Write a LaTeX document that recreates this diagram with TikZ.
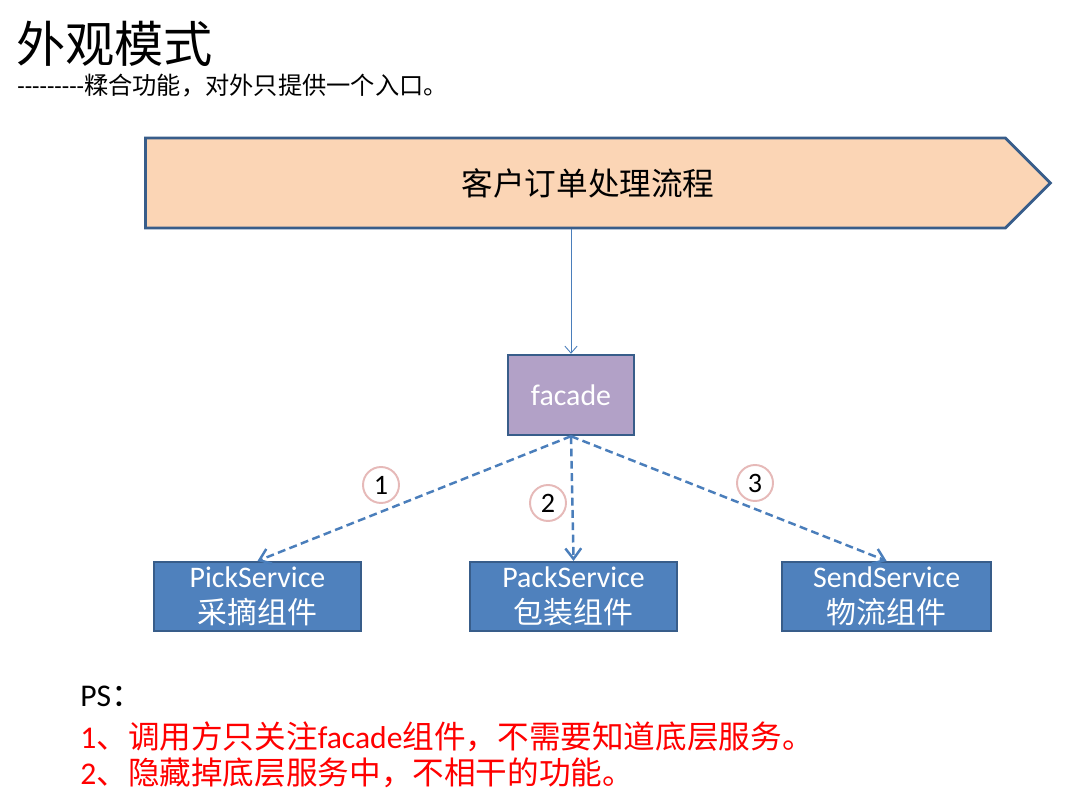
\documentclass[tikz,border=0pt]{standalone}
\usepackage{fontspec}
\setmainfont{Carlito}
\newfontfamily\cjk{Noto Sans CJK SC}
\newfontfamily\dashfont{Carlito}
\usepackage{xcolor}
\usetikzlibrary{arrows.meta,positioning,shapes.symbols}
\definecolor{edgeblue}{HTML}{385D8A}
\definecolor{linkblue}{HTML}{4A7EBB}
\definecolor{svcblue}{HTML}{4F81BD}
\definecolor{peach}{HTML}{FBD5B5}
\definecolor{lilac}{HTML}{B2A1C7}
\definecolor{rosering}{HTML}{E6B9B8}

\begin{document}
\begin{tikzpicture}[x=0.02cm, y=-0.02cm,
  svc/.style={draw=edgeblue, fill=svcblue, line width=1.2pt, text=white, align=center,
    minimum height=1.38cm, minimum width=4.14cm, inner sep=0pt,
    font=\fontsize{17}{20.5}\selectfont},
  num/.style={circle, draw=rosering, line width=1.1pt, minimum size=0.72cm, inner sep=0pt,
    font=\fontsize{16}{16}\selectfont},
  call/.style={-{Straight Barb[length=6pt,width=9pt]}, linkblue, line width=1.4pt,
    dash pattern=on 4.5pt off 2.5pt},
  note/.style={anchor=west, inner sep=0pt}
]
  \useasboundingbox[fill=white] (0,0) rectangle (1065,803);
  \node[note, font=\fontsize{28}{28}\selectfont\cjk] (title) at (16,44) {外观模式};
  \node[note, font=\fontsize{13.8}{13.8}\selectfont] (sub) at (17,86)
    {{\dashfont ---------}{\cjk 糅合功能，对外只提供一个入口。}};

  \node[signal, signal to=east, signal pointer angle=90, draw=edgeblue, fill=peach,
    line width=1.6pt, minimum width=18.1cm, minimum height=1.8cm,
    font=\fontsize{18}{18}\selectfont\cjk] (order) at (575.5,183) {\hspace*{0.5cm}客户订单处理流程};

  \node[draw=edgeblue, fill=lilac, line width=1.4pt, text=white, minimum width=2.52cm,
    minimum height=1.6cm, font=\fontsize{17}{17}\selectfont] (facade) at (571,395) {facade};

  \node[svc] (pick) at (257.5,596.5) {PickService\\{\cjk 采摘组件}};
  \node[svc, right=2.14cm of pick] (pack) {PackService\\{\cjk 包装组件}};
  \node[svc, minimum width=4.18cm, right=2.06cm of pack] (send) {SendService\\{\cjk 物流组件}};

  \draw[-{Straight Barb[length=4pt,width=7pt]}, linkblue, line width=0.5pt]
    (facade.north |- order.south) -- (facade.north);
  \draw[call] (facade.south) -- (pick.north);
  \draw[call] (facade.south) -- (pack.north);
  \draw[call] (facade.south) -- (send.north);

  \node[num] (n1) at (381,485) {1};
  \node[num] (n2) at (548,503) {2};
  \node[num] (n3) at (755,483) {3};

  \node[note, font=\fontsize{18}{18}\selectfont] (ps) at (80,696) {PS{\cjk ：}};
  \node[note, text=red, font=\fontsize{18}{18}\selectfont] (tip1) at (80,737)
    {1{\cjk 、调用方只关注}facade{\cjk 组件，不需要知道底层服务。}};
  \node[note, text=red, font=\fontsize{18}{18}\selectfont] (tip2) at (80,773)
    {2{\cjk 、隐藏掉底层服务中，不相干的功能。}};
\end{tikzpicture}
\end{document}
